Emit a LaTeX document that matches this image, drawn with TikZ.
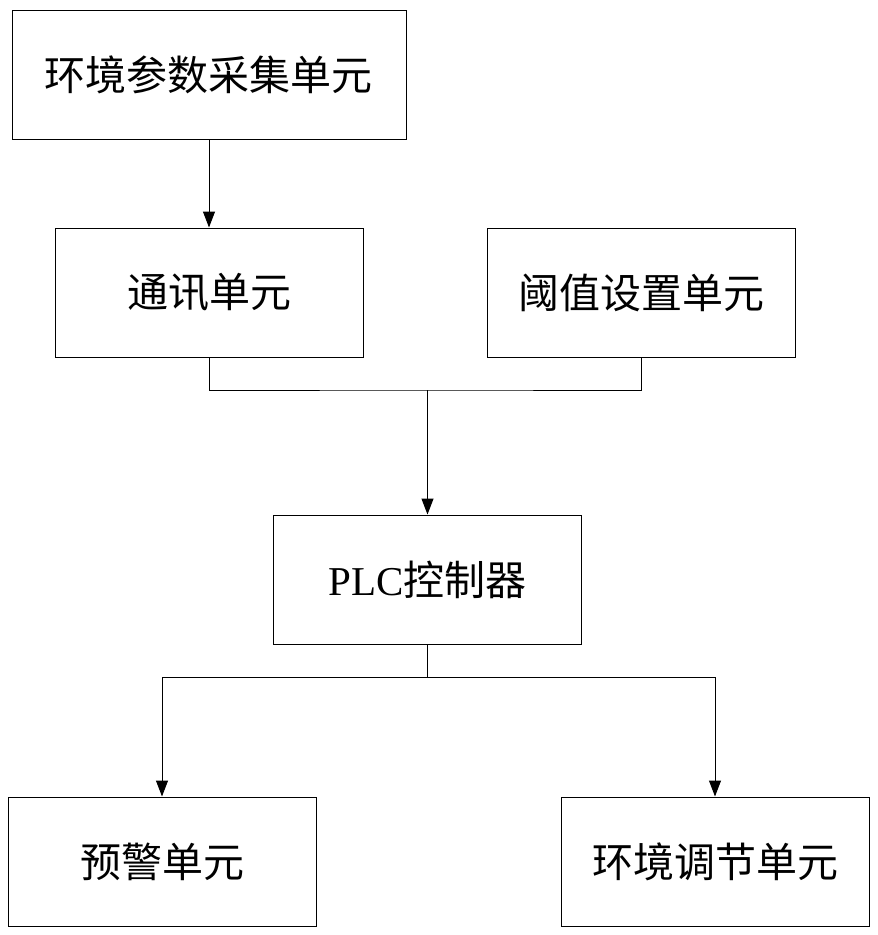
\documentclass[tikz,border=0pt]{standalone}
\usepackage{fontspec}
\setmainfont{Liberation Serif}
\newfontfamily\cjk{Noto Sans CJK SC}
\usetikzlibrary{arrows.meta}
\begin{document}
\begin{tikzpicture}[x=1pt,y=-1pt,
  box/.style={draw,line width=1pt,minimum width=308pt,minimum height=129pt,inner sep=0pt,font=\fontsize{41}{48}\selectfont},
  arr/.style={line width=1pt,-{Triangle[length=16pt,width=12pt]}},
  ln/.style={line width=1pt}]
\useasboundingbox (0,0) rectangle (878,935);
\node[box,minimum width=394pt] (a) at (209,75) {\cjk 环境参数采集单元};
\node[box] (b) at (209,292.5) {\cjk 通讯单元};
\node[box] (c) at (641.5,292.5) {\cjk 阈值设置单元};
\node[box] (d) at (427.5,579.5) {PLC\cjk 控制器};
\node[box] (e) at (162,861.5) {\cjk 预警单元};
\node[box] (f) at (715,861.5) {\cjk 环境调节单元};
\coordinate (j1) at (427.5,390);
\coordinate (j2) at (427.5,677);
\draw[arr] (a.south) -- (b.north);
\draw[ln] (b.south) |- (j1) -| (c.south);
\draw[arr] (j1) -- (d.north);
\draw[ln] (d.south) -- (j2);
\draw[arr] (j2) -| (e.north);
\draw[arr] (j2) -| (f.north);
\end{tikzpicture}
\end{document}
